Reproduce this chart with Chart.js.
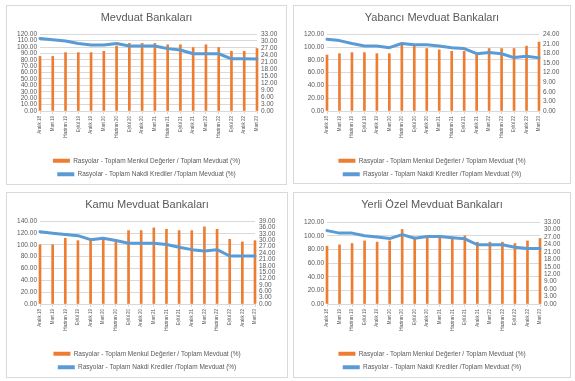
<!DOCTYPE html>
<html>
<head>
<meta charset="utf-8">
<script src="https://cdn.jsdelivr.net/npm/chart.js@4"></script>
<style>
  html, body { margin:0; padding:0; background:#ffffff; }
  body { width:575px; height:381px; position:relative; overflow:hidden; }
  .panel { position:absolute; border:1px solid #d9d9d9; box-sizing:border-box; background:#fff; }
  .panel canvas { display:block; }
</style>
</head>
<body>
<div class="panel" style="left:6px;top:5px;width:281px;height:180px;"><canvas id="c1" width="279" height="178"></canvas></div>
<div class="panel" style="left:293px;top:5px;width:278px;height:179px;"><canvas id="c2" width="276" height="177"></canvas></div>
<div class="panel" style="left:6px;top:192px;width:282px;height:186px;"><canvas id="c3" width="280" height="184"></canvas></div>
<div class="panel" style="left:293px;top:192px;width:278px;height:186px;"><canvas id="c4" width="276" height="184"></canvas></div>
<script>
// ---- data ----
const categories = ['Aralık 18','Mart 19','Haziran 19','Eylül 19','Aralık 19','Mart 20','Haziran 20','Eylül 20','Aralık 20','Mart 21','Haziran 21','Eylül 21','Aralık 21','Mart 22','Haziran 22','Eylül 22','Aralık 22','Mart 23'];

const seriesNames = ['Rasyolar - Toplam Menkul Değerler / Toplam Mevduat (%)', 'Rasyolar - Toplam Nakdi Krediler /Toplam Mevduat (%)'];
const titles = ['Mevduat Bankaları', 'Yabancı Mevduat Bankaları', 'Kamu Mevduat Bankaları', 'Yerli Özel Mevduat Bankaları'];

const mevduatMenkul = [85.3,85.3,91.2,91.2,91.2,93.3,101.3,105.6,105.6,105.6,103.5,103.5,99.2,103.5,99.2,93.3,93.3,97.6];
const mevduatKredi  = [31.2,30.6,30.1,29.0,28.4,28.4,29.0,27.9,27.9,27.9,26.8,26.2,24.6,24.6,24.6,22.4,22.4,22.3];

const yabanciMenkul = [87.5,89.6,91.2,91.2,89.6,89.6,103.5,101.9,97.6,95.5,93.3,93.3,87.5,97.6,97.6,97.6,101.3,107.7];
const yabanciKredi  = [22.4,22.0,21.1,20.3,20.3,19.8,21.1,20.7,20.7,20.3,19.8,19.5,17.9,18.3,17.9,16.7,17.1,16.6];

const kamuMenkul = [100.3,100.3,111.1,107.1,107.1,111.1,104.9,124.1,124.1,128.7,126.4,124.1,124.1,130.4,126.4,109.4,104.9,107.1];
const kamuKredi  = [34.0,33.3,32.7,32.2,30.3,31.0,29.9,28.6,28.6,28.6,28.0,26.7,25.6,25.0,25.6,22.6,22.6,22.6];

const yerliMenkul = [84.8,86.8,88.7,92.6,90.7,92.6,109.3,98.0,98.0,98.0,98.0,100.0,90.7,90.7,90.7,88.7,92.6,96.1];
const yerliKredi  = [29.6,28.6,28.6,27.5,27.0,26.4,28.0,26.5,27.2,27.2,26.7,26.3,23.9,23.9,23.9,22.9,22.4,22.4];

// axis tick settings per panel (max, step)
const leftMax   = [120, 120, 140, 120];
const leftStep  = [10, 20, 20, 20];
const rightMax  = [33, 24, 39, 33];
const rightStep = [3, 3, 3, 3];

// ---- styling ----
const ORANGE = '#ED7D31';
const BLUE = '#5B9BD5';
const GRID = '#d9d9d9';
const TXT = '#595959';
Chart.defaults.font.family = "'Liberation Sans', Arial, sans-serif";
Chart.defaults.animation = false;

const layouts = [
  {lw:33, rw:29, xh:39.5, tTop:5, tBot:10, pb:-3.5},
  {lw:33, rw:31, xh:39.5, tTop:5, tBot:10, pb:-4.5},
  {lw:33, rw:32, xh:39.5, tTop:5, tBot:10, pb:-3.5},
  {lw:33, rw:30, xh:39.5, tTop:5, tBot:11, pb:-3.5}
];

function build(id, i, menkul, kredi) {
  const lay = layouts[i];
  new Chart(document.getElementById(id), {
    type: 'bar',
    data: {
      labels: categories,
      datasets: [
        { type:'bar', label: seriesNames[0], data: menkul, yAxisID:'y',
          backgroundColor: ORANGE, borderWidth:0, barThickness:2, order:2, clip:false },
        { type:'line', label: seriesNames[1], data: kredi, yAxisID:'y1',
          borderColor: BLUE, backgroundColor: BLUE, borderWidth:3, pointRadius:0,
          tension:0, borderJoinStyle:'round', borderCapStyle:'round', order:1, clip:false }
      ]
    },
    options: {
      responsive:false,
      layout: { padding: { top:0, left:0, right:0, bottom: lay.pb } },
      plugins: {
        title: { display:true, text: titles[i], color: TXT,
                 font:{ size:11, weight:'normal' }, padding:{ top: lay.tTop, bottom: lay.tBot } },
        legend: { position:'bottom',
          labels: { boxWidth:17, boxHeight:4, padding:7, color: TXT, font:{ size:6.5 },
            sort: (a, b) => a.datasetIndex - b.datasetIndex,
            generateLabels: (chart) => {
              const items = Chart.defaults.plugins.legend.labels.generateLabels(chart);
              items.forEach(it => { it.lineWidth = 0; it.strokeStyle = 'rgba(0,0,0,0)'; });
              return items;
            }
          }
        },
        tooltip: { enabled:false }
      },
      scales: {
        x: {
          offset:false,
          grid: { offset:false, drawOnChartArea:false, drawTicks:true, tickLength:3, color: GRID },
          border: { color: GRID },
          ticks: { minRotation:90, maxRotation:90, autoSkip:false, color: TXT, font:{ size:4.5 }, padding:2 },
          afterFit: s => { s.height = lay.xh; }
        },
        y: {
          position:'left', min:0, max: leftMax[i],
          ticks: { stepSize: leftStep[i], autoSkip:false, color: TXT, font:{ size:6.5 }, padding:3,
                   callback: v => Number(v).toFixed(2) },
          grid: { color: GRID, drawTicks:false },
          border: { display:false },
          afterFit: s => { s.width = lay.lw; }
        },
        y1: {
          position:'right', min:0, max: rightMax[i],
          ticks: { stepSize: rightStep[i], autoSkip:false, color: TXT, font:{ size:6.5 }, padding:4,
                   callback: v => Number(v).toFixed(2) },
          grid: { drawOnChartArea:false, drawTicks:false },
          border: { display:false },
          afterFit: s => { s.width = lay.rw; }
        }
      }
    }
  });
}

build('c1', 0, mevduatMenkul, mevduatKredi);
build('c2', 1, yabanciMenkul, yabanciKredi);
build('c3', 2, kamuMenkul, kamuKredi);
build('c4', 3, yerliMenkul, yerliKredi);
</script>
</body>
</html>
